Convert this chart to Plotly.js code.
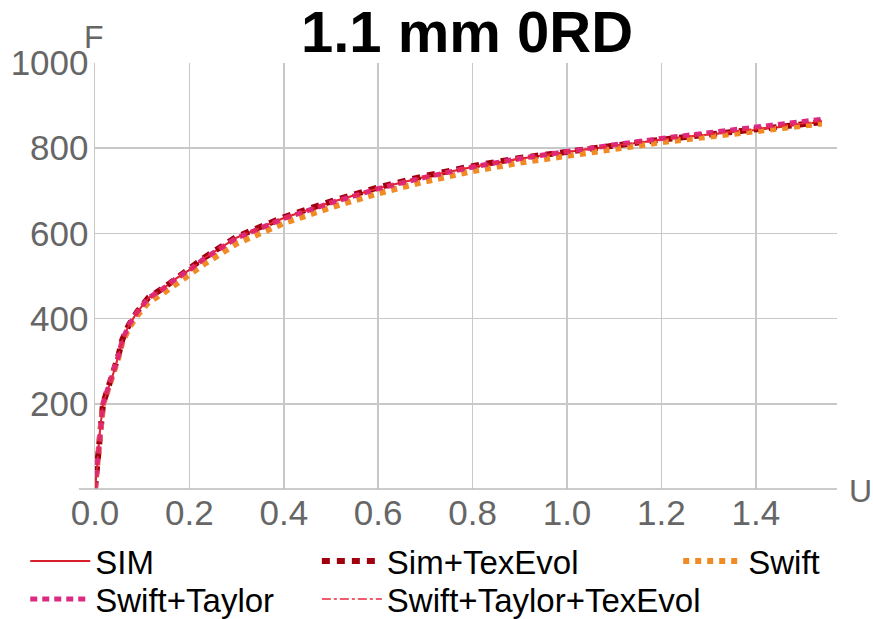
<!DOCTYPE html>
<html>
<head>
<meta charset="utf-8">
<script src="https://cdn.plot.ly/plotly-3.0.1.min.js"></script>
<style>html,body{margin:0;padding:0;background:#fff}#chart{width:873px;height:619px}</style>
</head>
<body>
<div id="chart"></div>
<script>
// U values (displacement) shared by all series
var U = [0, 0.004, 0.009, 0.017, 0.028, 0.039, 0.049, 0.058, 0.072, 0.09, 0.113, 0.145, 0.173, 0.205, 0.23, 0.3, 0.4, 0.5, 0.6, 0.7, 0.8, 0.9, 1.0, 1.1, 1.2, 1.3, 1.4, 1.5, 1.54];
var SIM = [0, 45, 122, 200, 237, 272, 310, 350, 385, 416, 448, 471, 495, 518, 541, 590, 636, 673, 706, 733, 756, 775, 791, 805, 820, 832, 843, 856, 862];
var SIM_TEXEVOL = [0, 45, 122, 200, 238, 273, 311, 351, 386, 417, 449, 472, 496, 519, 542, 592, 638, 675, 708, 735, 758, 777, 793, 806, 820, 832, 843, 855, 861];
var SWIFT = [0, 44, 120, 198, 235, 269, 306, 345, 378, 408, 438, 460, 483, 505, 527, 576, 624, 661, 694, 722, 746, 766, 783, 798, 814, 827, 839, 852, 858];
var SWIFT_TAYLOR = [0, 45, 122, 200, 237, 272, 310, 350, 385, 416, 448, 471, 495, 518, 540, 589, 635, 672, 705, 732, 756, 776, 793, 808, 823, 836, 848, 862, 868];
var SWIFT_TAYLOR_TEXEVOL = [0, 45, 122, 200, 237, 272, 310, 350, 385, 416, 448, 471, 495, 518, 541, 590, 636, 673, 706, 733, 757, 776, 792, 806, 821, 833, 845, 858, 864];
var NAMES = ['SIM', 'Sim+TexEvol', 'Swift', 'Swift+Taylor', 'Swift+Taylor+TexEvol'];
var XTICKS = [0, 0.2, 0.4, 0.6, 0.8, 1.0, 1.2, 1.4];
var XTICKTEXT = ['0.0', '0.2', '0.4', '0.6', '0.8', '1.0', '1.2', '1.4'];
var YTICKS = [200, 400, 600, 800, 1000];

var FONT = 'Liberation Sans, Arial, sans-serif';
var traces = [
  {x: U, y: SIM, name: NAMES[0], mode: 'lines', line: {color: '#d8202a', width: 2}, legend: 'legend'},
  {x: U, y: SIM_TEXEVOL, name: NAMES[1], mode: 'lines', line: {color: '#a0000e', width: 6, dash: '8px,7px'}, legend: 'legend2'},
  {x: U, y: SWIFT, name: NAMES[2], mode: 'lines', line: {color: '#f08a24', width: 6, dash: '6px,6px'}, legend: 'legend3'},
  {x: U, y: SWIFT_TAYLOR, name: NAMES[3], mode: 'lines', line: {color: '#dc2a82', width: 5, dash: '7px,5px'}, legend: 'legend4'},
  {x: U, y: SWIFT_TAYLOR_TEXEVOL, name: NAMES[4], mode: 'lines', line: {color: '#e8283c', width: 1.5, dash: 'dashdot'}, legend: 'legend5'}
];
function leg(x, y) {
  return {x: x, y: y, xanchor: 'left', yanchor: 'middle', bgcolor: 'rgba(0,0,0,0)', borderwidth: 0,
          font: {family: FONT, size: 33, color: '#000'}, itemwidth: 60, tracegroupgap: 0};
}
var layout = {
  width: 873, height: 619,
  margin: {l: 95, r: 36, t: 63, b: 130, autoexpand: false},
  paper_bgcolor: '#fff', plot_bgcolor: '#fff',
  title: {text: '<b>1.1 mm 0RD</b>', font: {family: FONT, size: 58, color: '#000'}, x: 467/873, xanchor: 'center', y: 1 - 32/619, yanchor: 'middle'},
  xaxis: {range: [0, 742/472], tickvals: XTICKS, ticktext: XTICKTEXT, showgrid: true, gridcolor: '#c8c8c8', gridwidth: 1.5,
          zeroline: false, showline: false, ticks: '',
          tickfont: {family: FONT, size: 35, color: '#666'}, fixedrange: true},
  yaxis: {range: [0, 1000], tickvals: YTICKS, showgrid: true, gridcolor: '#c8c8c8', gridwidth: 1.5,
          zeroline: false, showline: true, linecolor: '#c8c8c8', linewidth: 1.5, ticks: '', ticklabelstandoff: -2,
          tickfont: {family: FONT, size: 35, color: '#666'}, fixedrange: true},
  showlegend: true,
  legend: leg(-0.094, (489-561)/426),
  legend2: leg(0.299, (489-561)/426),
  legend3: leg(0.786, (489-561)/426),
  legend4: leg(-0.094, (489-599)/426),
  legend5: leg(0.299, (489-599)/426),
  shapes: [{type: 'line', xref: 'paper', yref: 'paper', x0: -16/742, x1: 1, y0: 0, y1: 0, line: {color: '#bbbbbb', width: 1.5}}],
  annotations: [
    {text: 'F', xref: 'paper', yref: 'paper', x: (94-95)/742, y: (489-37)/426, xanchor: 'center', yanchor: 'middle', showarrow: false, font: {family: FONT, size: 32, color: '#666'}},
    {text: 'U', xref: 'paper', yref: 'paper', x: (861-95)/742, y: (489-491)/426, xanchor: 'center', yanchor: 'middle', showarrow: false, font: {family: FONT, size: 32, color: '#666'}}
  ]
};
Plotly.newPlot('chart', traces, layout, {displayModeBar: false, staticPlot: true});
</script>
</body>
</html>
